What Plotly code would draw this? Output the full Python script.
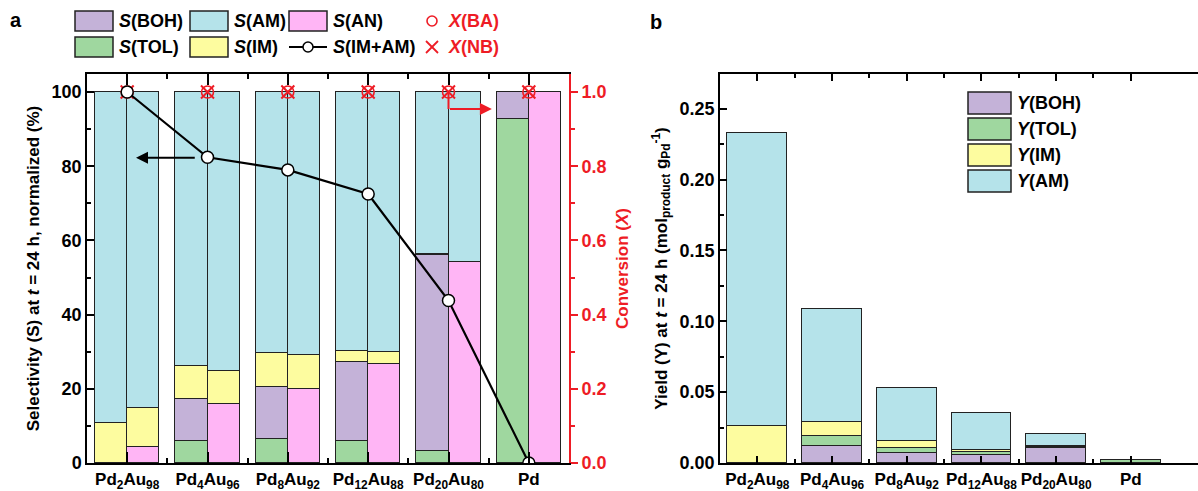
import plotly.graph_objects as go
import numpy as np

# ---------------- data ----------------
groups = ["Pd<sub>2</sub>Au<sub>98</sub>", "Pd<sub>4</sub>Au<sub>96</sub>", "Pd<sub>8</sub>Au<sub>92</sub>",
          "Pd<sub>12</sub>Au<sub>88</sub>", "Pd<sub>20</sub>Au<sub>80</sub>", "Pd"]

# panel a - left bar of each pair (benzyl alcohol feed), selectivity %
s_tol_ba = [0, 6.0, 6.6, 5.9, 3.2, 92.7]
s_boh_ba = [0, 11.2, 14.0, 21.3, 52.8, 7.3]
s_im_ba = [10.9, 9.0, 9.0, 3.0, 0.2, 0]
s_am_ba = [89.1, 73.8, 70.4, 69.8, 43.8, 0]

# panel a - right bar of each pair (nitrobenzene feed), selectivity %
s_an_nb = [4.2, 15.8, 20.0, 26.7, 54.1, 100]
s_im_nb = [10.7, 9.0, 9.1, 3.1, 0, 0]
s_am_nb = [85.1, 75.2, 70.9, 70.2, 45.9, 0]

# S(IM+AM) line (%), conversions
s_im_am = [100, 82.4, 79.0, 72.5, 43.8, 0]
x_ba = [1.0, 1.0, 1.0, 1.0, 1.0, 1.0]
x_nb = [1.0, 1.0, 1.0, 1.0, 1.0, 1.0]

# panel b - yields (mol_product / g_Pd)
y_boh = [0, 0.0117, 0.0071, 0.0060, 0.0108, 0.0002]
y_tol = [0, 0.0071, 0.0035, 0.0015, 0.0007, 0.0019]
y_im = [0.0258, 0.0099, 0.0047, 0.0015, 0.0005, 0.0]
y_am = [0.2071, 0.0802, 0.0376, 0.0263, 0.0085, 0.0]

# ---------------- style ----------------
C_BOH = "#c4b2d8"
C_AM = "#b5e3ea"
C_AN = "#ffb5f5"
C_TOL = "#9fd79f"
C_IM = "#fdfc9f"
RED = "#ee1c25"
EDGE = "#222222"
FONT = "Liberation Sans, Arial, sans-serif"

W, H = 1198, 491
L, R, T, B = 87, 0, 74, 28
PW, PH = W - L - R, H - T - B


def px(x):
    return (x - L) / PW


def py(y):
    return (H - B - y) / PH


idx = np.arange(len(groups))
xl = idx - 0.2
xr = idx + 0.2

fig = go.Figure()


def bar(x, y, color, xa, ya, w):
    fig.add_trace(go.Bar(x=x, y=y, width=w, xaxis=xa, yaxis=ya,
                         marker=dict(color=color, line=dict(color=EDGE, width=1.5)),
                         showlegend=False, hoverinfo="skip"))


# panel a bars
bar(xl, s_tol_ba, C_TOL, "x", "y", 0.4)
bar(xl, s_boh_ba, C_BOH, "x", "y", 0.4)
bar(xl, s_im_ba, C_IM, "x", "y", 0.4)
bar(xl, s_am_ba, C_AM, "x", "y", 0.4)
bar(xr, s_an_nb, C_AN, "x", "y", 0.4)
bar(xr, s_im_nb, C_IM, "x", "y", 0.4)
bar(xr, s_am_nb, C_AM, "x", "y", 0.4)

# conversions
fig.add_trace(go.Scatter(x=idx, y=x_ba, xaxis="x", yaxis="y2", mode="markers",
                         marker=dict(symbol="circle-open", size=12, color=RED, line=dict(width=1.6)),
                         showlegend=False))
fig.add_trace(go.Scatter(x=idx, y=x_nb, xaxis="x", yaxis="y2", mode="markers",
                         marker=dict(symbol="x-thin-open", size=13, color=RED, line=dict(width=2, color=RED)),
                         showlegend=False))
# S(IM+AM) line on top
fig.add_trace(go.Scatter(x=idx, y=s_im_am, xaxis="x", yaxis="y4", mode="lines+markers",
                         line=dict(color="black", width=2.2),
                         marker=dict(symbol="circle", size=12, color="white", line=dict(color="black", width=1.5)),
                         showlegend=False))

# panel b bars
bar(idx, y_boh, C_BOH, "x2", "y3", 0.8)
bar(idx, y_tol, C_TOL, "x2", "y3", 0.8)
bar(idx, y_im, C_IM, "x2", "y3", 0.8)
bar(idx, y_am, C_AM, "x2", "y3", 0.8)

tickfont = dict(family=FONT, size=18, color="black", weight="bold")
xtickfont = dict(family=FONT, size=17, color="black", weight="bold")
titlefont = dict(family=FONT, size=17, color="black", weight="bold")

minor_x = dict(tickmode="array", tickvals=list(idx[:-1] + 0.5), ticklen=5, tickwidth=1.5,
               tickcolor="black", ticks="inside")

fig.update_layout(
    width=W, height=H, margin=dict(l=L, r=R, t=T, b=B, autoexpand=False),
    paper_bgcolor="white", plot_bgcolor="white",
    barmode="stack", bargap=0, showlegend=False,
    font=dict(family=FONT, weight="bold"),
    xaxis=dict(domain=[0, px(569)], range=[-0.5, 5.5], anchor="y", automargin=False, tickangle=0,
               tickmode="array", tickvals=list(idx), ticktext=groups,
               ticks="inside", ticklen=11, tickwidth=1.5, tickcolor="black",
               showline=True, linewidth=1.5, linecolor="black", mirror="ticks",
               minor=minor_x, tickfont=xtickfont, showgrid=False, zeroline=False),
    yaxis=dict(domain=[0, 1], range=[0, 104.85], anchor="x", automargin=False,
               tickmode="array", tickvals=[0, 20, 40, 60, 80, 100],
               ticks="inside", ticklen=7, tickwidth=1.5, tickcolor="black",
               minor=dict(dtick=10, tick0=0, ticklen=4, tickwidth=1.5, tickcolor="black", ticks="inside"),
               showline=True, linewidth=1.5, linecolor="black", mirror=False,
               tickfont=tickfont, showgrid=False, zeroline=False,
               title=dict(text="Selectivity (S) at <i>t</i> = 24 h, normalized (%)", font=titlefont, standoff=8)),
    yaxis2=dict(overlaying="y", side="right", anchor="x", range=[0, 1.0485], automargin=False,
                tickmode="array", tickvals=[0, 0.2, 0.4, 0.6, 0.8, 1.0], tickformat=".1f",
                ticks="outside", ticklen=7, tickwidth=1.5, tickcolor=RED,
                minor=dict(dtick=0.1, tick0=0, ticklen=4, tickwidth=1.5, tickcolor=RED, ticks="outside"),
                showline=True, linewidth=2, linecolor=RED,
                tickfont=dict(family=FONT, size=18, color=RED, weight="bold"),
                showgrid=False, zeroline=False,
                title=dict(text="Conversion (<i>X</i>)", font=dict(family=FONT, size=17, color=RED, weight="bold"),
                           standoff=10)),
    yaxis4=dict(overlaying="y", anchor="x", range=[0, 104.85], visible=False),
    xaxis2=dict(domain=[px(720), 1], range=[-0.5, 5.9], anchor="y3", automargin=False, tickangle=0,
                tickmode="array", tickvals=list(idx), ticktext=groups,
                ticks="inside", ticklen=7, tickwidth=1.5, tickcolor="black",
                showline=True, linewidth=1.5, linecolor="black", mirror="ticks",
                minor=dict(tickmode="array", tickvals=list(idx[:-1] + 0.5), ticklen=4, tickwidth=1.5,
                           tickcolor="black", ticks="inside"),
                tickfont=xtickfont, showgrid=False, zeroline=False),
    yaxis3=dict(domain=[0, 1], range=[0, 0.2745], anchor="x2", automargin=False,
                tickmode="array", tickvals=[0, 0.05, 0.10, 0.15, 0.20, 0.25], tickformat=".2f",
                ticks="inside", ticklen=7, tickwidth=1.5, tickcolor="black",
                minor=dict(dtick=0.025, tick0=0, ticklen=4, tickwidth=1.5, tickcolor="black", ticks="inside"),
                showline=True, linewidth=1.5, linecolor="black", mirror=False,
                tickfont=tickfont, showgrid=False, zeroline=False,
                title=dict(text="Yield (Y) at <i>t</i> = 24 h (mol<sub>product</sub> g<sub>Pd</sub><sup>-1</sup>)",
                           font=titlefont, standoff=8)),
)

shapes = []
annotations = []

# arrows in panel a
annotations.append(dict(x=0.11, y=82.3, ax=0.86, ay=82.3, xref="x", yref="y", axref="x", ayref="y",
                        text="", showarrow=True, arrowhead=2, arrowsize=1.2, arrowwidth=2, arrowcolor="black"))
shapes.append(dict(type="line", xref="x", yref="y2", x0=4, x1=4, y0=1.0, y1=0.954,
                   line=dict(color=RED, width=2)))
annotations.append(dict(x=4.54, y=0.954, ax=4.0, ay=0.954, xref="x", yref="y2", axref="x", ayref="y2",
                        text="", showarrow=True, arrowhead=2, arrowsize=1.2, arrowwidth=2, arrowcolor=RED))


def box(x0, yc, w, h, color):
    shapes.append(dict(type="rect", xref="paper", yref="paper",
                       x0=px(x0), x1=px(x0 + w), y0=py(yc + h / 2), y1=py(yc - h / 2),
                       fillcolor=color, line=dict(color=EDGE, width=1.5)))


def label(x, yc, text, color="black", size=18):
    annotations.append(dict(x=px(x), y=py(yc), xref="paper", yref="paper", text=text, showarrow=False,
                            xanchor="left", yanchor="middle",
                            font=dict(family=FONT, size=size, color=color, weight="bold")))


# panel a legend
r1, r2 = 21, 47
box(75, r1, 38, 20, C_BOH); label(117, r1, "<i>S</i>(BOH)")
box(190, r1, 38, 20, C_AM); label(232, r1, "<i>S</i>(AM)")
box(289, r1, 38, 20, C_AN); label(331, r1, "<i>S</i>(AN)")
shapes.append(dict(type="circle", xref="paper", yref="paper", x0=px(427), x1=px(437), y0=py(r1 + 5), y1=py(r1 - 5),
                   line=dict(color=RED, width=1.6)))
label(446, r1, "<i>X</i>(BA)", RED)
box(75, r2, 38, 20, C_TOL); label(117, r2, "<i>S</i>(TOL)")
box(190, r2, 38, 20, C_IM); label(232, r2, "<i>S</i>(IM)")
shapes.append(dict(type="line", xref="paper", yref="paper", x0=px(289), x1=px(327), y0=py(r2), y1=py(r2),
                   line=dict(color="black", width=2)))
shapes.append(dict(type="circle", xref="paper", yref="paper", x0=px(303), x1=px(313), y0=py(r2 + 5), y1=py(r2 - 5),
                   fillcolor="white", line=dict(color="black", width=1.5)))
label(331, r2, "<i>S</i>(IM+AM)")
for dx0, dy0, dx1, dy1 in [(-6, -6, 6, 6), (-6, 6, 6, -6)]:
    shapes.append(dict(type="line", xref="paper", yref="paper", x0=px(432 + dx0), x1=px(432 + dx1),
                       y0=py(r2 + dy0), y1=py(r2 + dy1), line=dict(color=RED, width=1.8)))
label(446, r2, "<i>X</i>(NB)", RED)

# panel b legend
for yc, col, txt in [(103, C_BOH, "<i>Y</i>(BOH)"), (129, C_TOL, "<i>Y</i>(TOL)"),
                     (155, C_IM, "<i>Y</i>(IM)"), (181, C_AM, "<i>Y</i>(AM)")]:
    box(968, yc, 43, 22, col)
    label(1015, yc, txt)

# panel letters
label(8, 20, "a", size=20)
label(648, 22, "b", size=20)

fig.update_layout(shapes=shapes, annotations=annotations)
fig.write_html("out.html")
